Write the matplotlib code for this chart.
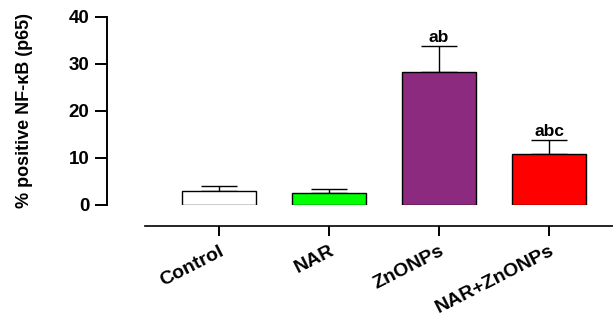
import numpy as np
import matplotlib.pyplot as plt

plt.rcParams['font.family'] = ['Liberation Sans', 'DejaVu Sans']
plt.rcParams['font.weight'] = 'bold'

# data
groups = ['Control', 'NAR', 'ZnONPs', 'NAR+ZnONPs']
means = [3.0, 2.5, 28.3, 10.8]
errors = [1.0, 0.8, 5.6, 3.0]
letters = ['', '', 'ab', 'abc']
colors = ['white', '#00FF00', '#8B2A7E', '#FF0000']

fig = plt.figure(figsize=(6.13, 3.22), dpi=100)
ax = fig.add_axes([0.2365, 0.3634, 0.7635, 0.5839])

x = np.arange(len(groups))
ax.bar(x, means, width=0.67, color=colors, edgecolor='black', linewidth=1.0, zorder=2)
# upper error bars only
ax.errorbar(x, means, yerr=[np.zeros(len(means)), errors], fmt='none',
            ecolor='black', elinewidth=1.0, capsize=13, capthick=1.0, zorder=1)

for xi, m, e, t in zip(x, means, errors, letters):
    if t:
        ax.text(xi, m + e + 0.2, t, ha='center', va='bottom', fontsize=12.5, fontweight='bold')

ax.set_xlim(-0.673, 3.58)
ax.set_ylim(0, 40)
ax.set_yticks([0, 10, 20, 30, 40])
ax.set_xticks(x)

for s in ['top', 'right']:
    ax.spines[s].set_visible(False)
ax.spines['left'].set_position(('outward', 27))
ax.spines['left'].set_bounds(0, 40)
ax.spines['bottom'].set_position(('outward', 15))
ax.spines['left'].set_linewidth(1.4)
ax.spines['bottom'].set_linewidth(1.2)
ax.tick_params(axis='y', length=9, width=1.4, labelsize=13.5, pad=4)
ax.tick_params(axis='x', length=7, width=1.4, pad=5)

# set labels after tick_params so the rotation sticks
ax.set_xticklabels(groups, fontsize=14)
for lab in ax.get_xticklabels():
    lab.set_rotation(27)
    lab.set_ha('right')
    lab.set_rotation_mode('anchor')

ax.set_ylabel('% positive NF-κB (p65)', fontsize=13, fontweight='bold', labelpad=26)

fig.savefig('out.png', dpi=100)
